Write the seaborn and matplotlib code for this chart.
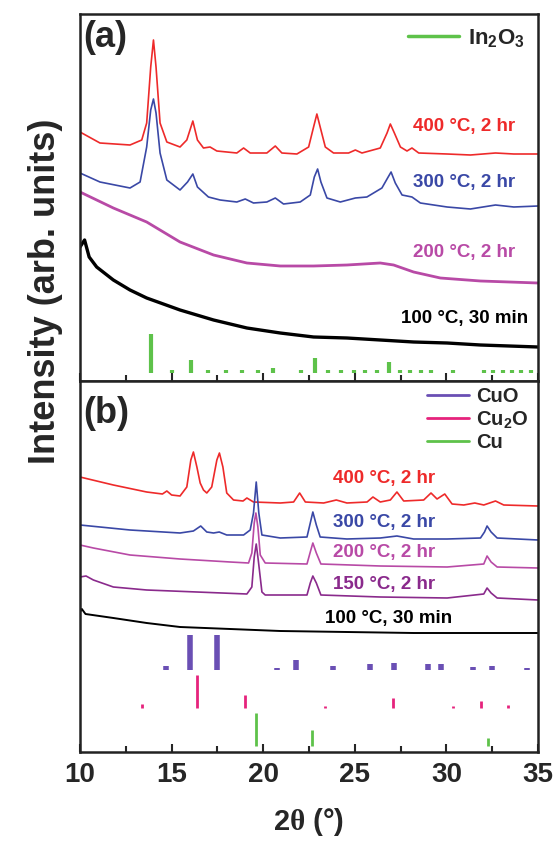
import matplotlib
matplotlib.use("Agg")
import matplotlib.pyplot as plt
from matplotlib.lines import Line2D
import seaborn as sns

# ---- panel (a): In2O3 patterns, (2theta, intensity) points ----
a400 = [(10, 249), (11.09, 238), (12.73, 236), (13.37, 241), (13.64, 258), (13.86, 314),
        (14.01, 341), (14.15, 314), (14.37, 258), (14.74, 239), (15.46, 234), (15.83, 241),
        (16.16, 260), (16.41, 241), (16.74, 233), (17.10, 234), (17.47, 230), (18.56, 228),
        (18.93, 233), (19.29, 228), (20.2, 228), (20.66, 235), (21.02, 228), (21.84, 227),
        (22.48, 234), (22.75, 254), (22.93, 267), (23.11, 254), (23.39, 234), (23.84, 228),
        (24.66, 228), (25.03, 231), (25.39, 228), (26.39, 233), (26.76, 248), (26.94, 257),
        (27.16, 248), (27.49, 234), (27.85, 230), (28.12, 233), (28.49, 228), (30.04, 227),
        (31.31, 226), (32.68, 228), (33.68, 227), (35.0, 227)]
a300 = [(10, 208), (11.09, 199), (12.73, 193), (13.28, 199), (13.64, 234), (13.86, 271),
        (14.01, 282), (14.15, 268), (14.37, 228), (14.74, 201), (15.46, 191), (15.87, 199),
        (16.16, 207), (16.41, 194), (17.01, 184), (17.65, 181), (18.56, 179), (19.02, 182),
        (19.47, 178), (20.2, 179), (20.66, 183), (21.11, 177), (22.02, 179), (22.57, 186),
        (22.79, 204), (22.97, 212), (23.15, 199), (23.48, 183), (24.21, 179), (25.03, 183),
        (25.66, 184), (26.48, 193), (26.79, 203), (26.98, 209), (27.21, 198), (27.58, 186),
        (28.12, 184), (28.58, 178), (30.04, 174), (31.31, 172), (32.68, 176), (33.68, 174),
        (35.0, 175)]
a200 = [(10, 189), (11.82, 173), (13.64, 159), (15.46, 139), (17.29, 126), (19.11, 118),
        (20.93, 115), (22.75, 115), (24.57, 116), (26.39, 118), (27.12, 116), (28.21, 109),
        (29.67, 103), (31.86, 100), (35, 98)]
a100 = [(10, 134), (10.25, 141), (10.5, 124), (10.91, 114), (11.82, 101), (12.73, 91),
        (13.64, 83), (15.46, 71), (17.29, 61), (19.11, 53), (20.93, 48), (22.75, 44),
        (24.57, 43), (26.39, 41), (28.21, 39), (30.04, 38), (31.86, 36), (35, 34)]

in2o3_pos = [13.86, 16.07, 22.84, 26.85, 15.01, 17.01, 17.96, 18.87, 19.71, 20.53, 22.06,
             23.52, 24.24, 24.94, 25.57, 26.21, 27.45, 28.03, 28.62, 29.18, 30.36, 32.04,
             32.55, 33.10, 33.59, 34.08, 34.63]
in2o3_h = [39, 13, 15, 11, 3, 3, 3, 3, 3, 5, 3, 3, 3, 3, 3, 3, 3, 3, 3, 3, 3, 3, 3, 3, 3, 3, 3]

# ---- panel (b): Cu oxide patterns ----
b400 = [(10, 275), (11.82, 267), (13.64, 260), (14.5, 258), (14.74, 261), (15.0, 257),
        (15.46, 256), (15.83, 265), (16.05, 292), (16.19, 300), (16.38, 285), (16.56, 269),
        (16.74, 262), (16.92, 259), (17.19, 265), (17.47, 292), (17.61, 299), (17.8, 285),
        (18.01, 259), (18.38, 252), (18.9, 251), (19.11, 254), (19.47, 250), (20.93, 249),
        (21.66, 250), (21.99, 259), (22.3, 250), (23.3, 249), (23.99, 252), (24.57, 249),
        (25.67, 250), (25.99, 255), (26.39, 250), (26.94, 252), (27.3, 260), (27.67, 251),
        (28.76, 252), (29.16, 259), (29.49, 253), (29.91, 258), (30.31, 248), (30.95, 247),
        (31.55, 249), (32.04, 247), (32.68, 251), (33.13, 247), (35, 246)]
b300 = [(10, 227), (12.73, 222), (15.46, 219), (16.19, 221), (16.59, 226), (16.92, 220),
        (17.29, 219), (17.6, 220), (18.01, 217), (18.93, 217), (19.29, 222), (19.47, 239),
        (19.62, 270), (19.76, 239), (19.93, 217), (20.93, 214), (22.39, 215), (22.57, 229),
        (22.71, 240), (22.9, 227), (23.11, 215), (24.57, 213), (26.39, 214), (27.3, 216),
        (28.21, 213), (30.04, 213), (31.86, 214), (32.08, 220), (32.22, 226), (32.44, 220),
        (32.77, 214), (35, 212)]
b200 = [(10, 207), (10.73, 204), (12.73, 197), (15.46, 193), (18.2, 190), (19.2, 189),
        (19.38, 199), (19.51, 229), (19.6, 239), (19.71, 225), (19.84, 197), (20.11, 189),
        (22.39, 188), (22.57, 200), (22.71, 209), (22.9, 199), (23.15, 188), (26.39, 186),
        (30.04, 185), (32.04, 188), (32.22, 196), (32.44, 190), (32.77, 185), (35, 184)]
b150 = [(10, 175), (10.33, 176), (10.73, 172), (11.82, 165), (13.64, 162), (16.38, 160),
        (19.11, 158), (19.38, 165), (19.51, 195), (19.62, 208), (19.73, 192), (19.93, 160),
        (20.11, 157), (22.39, 157), (22.57, 169), (22.71, 176), (22.9, 169), (23.15, 157),
        (26.39, 155), (30.04, 154), (32.04, 158), (32.22, 164), (32.44, 159), (32.77, 154),
        (35, 152)]
b100 = [(10, 140), (10.1, 143), (10.3, 138), (11.82, 134), (13.64, 129), (15.46, 125),
        (18.2, 123), (20.93, 121), (24.57, 120), (28.21, 119), (35, 119)]

cuo_pos = [14.7, 16.01, 17.5, 20.75, 21.8, 23.79, 25.81, 27.12, 28.98, 29.73, 31.46, 32.5, 34.41]
cuo_h = [4, 35, 35, 2, 10, 4, 6, 7, 6, 6, 3, 4, 2]
cu2o_pos = [13.37, 16.41, 19.02, 23.39, 27.07, 30.36, 31.89, 33.35]
cu2o_h = [4, 33, 13, 2, 10, 2, 7, 3]
cu_pos = [19.6, 22.66, 32.26]
cu_h = [33, 16, 8]

labels_a = ["400 °C, 2 hr", "300 °C, 2 hr", "200 °C, 2 hr", "100 °C, 30 min"]
labels_b = ["400 °C, 2 hr", "300 °C, 2 hr", "200 °C, 2 hr", "150 °C, 2 hr", "100 °C, 30 min"]

sns.set_theme(style="ticks")
plt.rcParams["font.family"] = ["Liberation Sans", "DejaVu Sans"]
plt.rcParams["font.weight"] = "bold"
plt.rcParams["mathtext.fontset"] = "custom"
plt.rcParams["mathtext.rm"] = "Liberation Sans:bold"
plt.rcParams["mathtext.bf"] = "Liberation Sans:bold"
plt.rcParams["mathtext.it"] = "Liberation Serif"

RED, BLUE, MAG, PUR = "#ee2a2a", "#3a48a6", "#b84aa6", "#8a2a8c"
GREEN, CUO_C, CU2O_C = "#5ec24a", "#6a4fb4", "#e6237c"

fig = plt.figure(figsize=(5.55, 8.43), dpi=100)
W, H = 555, 843
ax1 = fig.add_axes([80 / W, 1 - 381 / H, 458 / W, 367 / H])
ax2 = fig.add_axes([80 / W, 1 - 752 / H, 458 / W, 371 / H])


def draw(ax, pts, color, lw):
    xs = [p[0] for p in pts]
    ys = [p[1] for p in pts]
    sns.lineplot(x=xs, y=ys, ax=ax, color=color, lw=lw, sort=False, estimator=None)


for pts, c, lw in [(a400, RED, 1.2), (a300, BLUE, 1.2), (a200, MAG, 2.0), (a100, "black", 2.4)]:
    draw(ax1, pts, c, lw)
ax1.vlines(in2o3_pos, 8, [8 + h for h in in2o3_h], color=GREEN, lw=3)

for pts, c, lw in [(b400, RED, 1.2), (b300, BLUE, 1.2), (b200, MAG, 1.2),
                   (b150, PUR, 1.2), (b100, "black", 1.4)]:
    draw(ax2, pts, c, lw)
ax2.vlines(cuo_pos, 82, [82 + h for h in cuo_h], color=CUO_C, lw=4)
ax2.vlines(cu2o_pos, 44, [44 + h for h in cu2o_h], color=CU2O_C, lw=2)
ax2.vlines(cu_pos, 6, [6 + h for h in cu_h], color=GREEN, lw=2)

# curve labels
fs = 13.5
for txt, y, c in zip(labels_a, [254, 198, 128, 63], [RED, BLUE, MAG, "black"]):
    xr = 34.48 if "min" in txt else 33.77
    ax1.text(xr, y, txt, color=c, fontsize=fs, fontweight="bold", ha="right", va="center")
for txt, y, c in zip(labels_b, [273, 229, 199, 167, 133], [RED, BLUE, MAG, PUR, "black"]):
    ax2.text(23.83 if "min" not in txt else 23.4, y, txt, color=c, fontsize=fs,
             fontweight="bold", ha="left", va="center")

ax1.text(0.008, 0.985, "(a)", transform=ax1.transAxes, fontsize=26, fontweight="bold",
         ha="left", va="top")
ax2.text(0.008, 0.96, "(b)", transform=ax2.transAxes, fontsize=26, fontweight="bold",
         ha="left", va="top")

# legends
h_a = [Line2D([], [], color=GREEN, lw=2.5)]
ax1.legend(h_a, ["In$_2$O$_3$"], loc="center left", bbox_to_anchor=(0.716, 0.935),
           frameon=False, fontsize=16, handlelength=2.3, handletextpad=0.4,
           borderpad=0, borderaxespad=0)
h_b = [Line2D([], [], color=c, lw=2) for c in [CUO_C, CU2O_C, GREEN]]
ax2.legend(h_b, ["CuO", "Cu$_2$O", "Cu"], loc="upper left", bbox_to_anchor=(0.757, 0.985),
           frameon=False, fontsize=14.5, handlelength=2.1, handletextpad=0.35,
           borderpad=0, borderaxespad=0, labelspacing=0.15)

for ax, top in [(ax1, 367), (ax2, 371)]:
    ax.set_xlim(10, 35)
    ax.set_ylim(0, top)
    ax.set_yticks([])
    ax.set_xticks([10, 15, 20, 25, 30, 35])
    ax.set_xticks([12.5, 17.5, 22.5, 27.5, 32.5], minor=True)
    ax.tick_params(axis="x", which="major", direction="in", length=6, width=1.5,
                   labelsize=20, pad=7)
    ax.tick_params(axis="x", which="minor", direction="in", length=4, width=1.5)
    for s in ax.spines.values():
        s.set_linewidth(1.8)
        s.set_color("#222222")
    for lab in ax.get_xticklabels():
        lab.set_fontweight("bold")
ax1.tick_params(axis="x", labelbottom=False)

fig.text(46 / W, 1 - 291 / H, "Intensity (arb. units)", rotation=90, fontsize=26,
         fontweight="bold", ha="center", va="center")
fig.text(309 / W, 1 - 822 / H, r"2$\theta$ (°)", fontsize=21, fontweight="bold",
         ha="center", va="center")

fig.savefig("out.png", dpi=100)
